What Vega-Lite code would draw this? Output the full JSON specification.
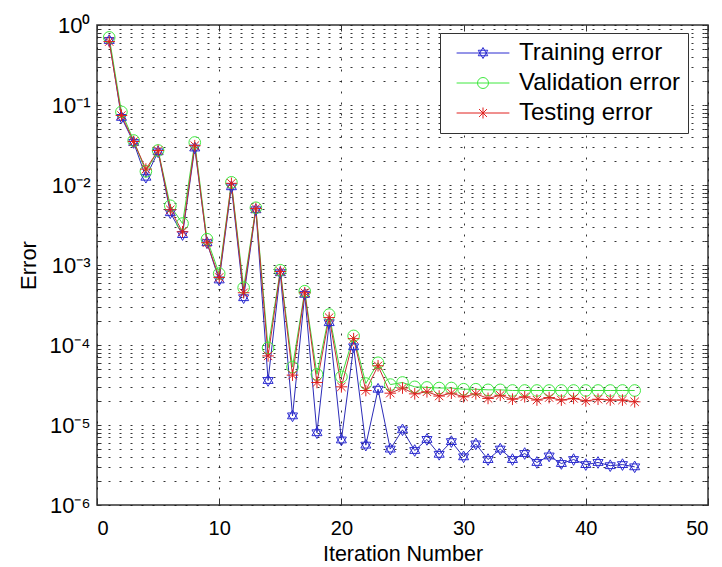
{
  "$schema": "https://vega.github.io/schema/vega-lite/v6.json",
  "width": 611,
  "height": 480,
  "autosize": "none",
  "padding": {"left": 97, "top": 25, "right": 14, "bottom": 62},
  "background": "white",
  "config": {
    "font": "Liberation Sans",
    "view": {"stroke": "#333", "strokeWidth": 1.5},
    "axis": {
      "labelColor": "#000",
      "titleColor": "#000",
      "titleFontWeight": "normal",
      "gridColor": "#111",
      "gridDash": [2, 9],
      "gridWidth": 1,
      "gridOpacity": 0.85,
      "domain": false,
      "tickColor": "#333"
    }
  },
  "data": {
    "values": [
      {"it": 1, "Training error": 0.64, "Validation error": 0.70, "Testing error": 0.62},
      {"it": 2, "Training error": 0.070, "Validation error": 0.082, "Testing error": 0.074},
      {"it": 3, "Training error": 0.034, "Validation error": 0.036, "Testing error": 0.035},
      {"it": 4, "Training error": 0.0125, "Validation error": 0.0148, "Testing error": 0.0158},
      {"it": 5, "Training error": 0.026, "Validation error": 0.027, "Testing error": 0.027},
      {"it": 6, "Training error": 0.0045, "Validation error": 0.0055, "Testing error": 0.0049},
      {"it": 7, "Training error": 0.0024, "Validation error": 0.0033, "Testing error": 0.0026},
      {"it": 8, "Training error": 0.029, "Validation error": 0.034, "Testing error": 0.031},
      {"it": 9, "Training error": 0.0019, "Validation error": 0.0021, "Testing error": 0.0019},
      {"it": 10, "Training error": 0.00065, "Validation error": 0.00078, "Testing error": 0.0007},
      {"it": 11, "Training error": 0.0095, "Validation error": 0.0108, "Testing error": 0.0105},
      {"it": 12, "Training error": 0.00039, "Validation error": 0.00052, "Testing error": 0.00045},
      {"it": 13, "Training error": 0.0049, "Validation error": 0.0052, "Testing error": 0.0051},
      {"it": 14, "Training error": 0.000036, "Validation error": 0.000092, "Testing error": 0.000073},
      {"it": 15, "Training error": 0.00080, "Validation error": 0.00086, "Testing error": 0.00083},
      {"it": 16, "Training error": 0.000013, "Validation error": 0.000053, "Testing error": 0.000042},
      {"it": 17, "Training error": 0.00043, "Validation error": 0.00047, "Testing error": 0.00045},
      {"it": 18, "Training error": 0.000008, "Validation error": 0.000043, "Testing error": 0.000034},
      {"it": 19, "Training error": 0.00019, "Validation error": 0.00024, "Testing error": 0.00022},
      {"it": 20, "Training error": 0.0000065, "Validation error": 0.00004, "Testing error": 0.00003},
      {"it": 21, "Training error": 0.000095, "Validation error": 0.00013, "Testing error": 0.00012},
      {"it": 22, "Training error": 0.0000056, "Validation error": 0.000033, "Testing error": 0.000027},
      {"it": 23, "Training error": 0.000028, "Validation error": 0.00006, "Testing error": 0.000055},
      {"it": 24, "Training error": 0.000005, "Validation error": 0.000032, "Testing error": 0.000025},
      {"it": 25, "Training error": 0.0000087, "Validation error": 0.000034, "Testing error": 0.000029},
      {"it": 26, "Training error": 0.0000048, "Validation error": 0.00003, "Testing error": 0.0000245},
      {"it": 27, "Training error": 0.0000066, "Validation error": 0.0000295, "Testing error": 0.000026},
      {"it": 28, "Training error": 0.0000043, "Validation error": 0.000029, "Testing error": 0.000023},
      {"it": 29, "Training error": 0.0000062, "Validation error": 0.000029, "Testing error": 0.000025},
      {"it": 30, "Training error": 0.000004, "Validation error": 0.000028, "Testing error": 0.0000225},
      {"it": 31, "Training error": 0.0000058, "Validation error": 0.000028, "Testing error": 0.0000245},
      {"it": 32, "Training error": 0.0000037, "Validation error": 0.0000275, "Testing error": 0.0000215},
      {"it": 33, "Training error": 0.000005, "Validation error": 0.0000275, "Testing error": 0.0000235},
      {"it": 34, "Training error": 0.0000037, "Validation error": 0.000027, "Testing error": 0.000021},
      {"it": 35, "Training error": 0.0000044, "Validation error": 0.000027, "Testing error": 0.0000225},
      {"it": 36, "Training error": 0.0000034, "Validation error": 0.000027, "Testing error": 0.0000205},
      {"it": 37, "Training error": 0.0000041, "Validation error": 0.000027, "Testing error": 0.000022},
      {"it": 38, "Training error": 0.0000033, "Validation error": 0.000027, "Testing error": 0.0000205},
      {"it": 39, "Training error": 0.0000037, "Validation error": 0.000027, "Testing error": 0.0000215},
      {"it": 40, "Training error": 0.0000032, "Validation error": 0.000027, "Testing error": 0.00002},
      {"it": 41, "Training error": 0.0000034, "Validation error": 0.000027, "Testing error": 0.000021},
      {"it": 42, "Training error": 0.0000031, "Validation error": 0.000027, "Testing error": 0.0000205},
      {"it": 43, "Training error": 0.0000032, "Validation error": 0.000027, "Testing error": 0.0000205},
      {"it": 44, "Training error": 0.000003, "Validation error": 0.000027, "Testing error": 0.0000195}
    ]
  },
  "transform": [
    {"fold": ["Training error", "Validation error", "Testing error"], "as": ["series", "value"]}
  ],
  "layer": [
    {
      "mark": {"type": "line", "strokeWidth": 1},
      "encoding": {
        "x": {
          "field": "it",
          "type": "quantitative",
          "scale": {"domain": [0, 50], "nice": false},
          "axis": {
            "orient": "bottom",
            "title": "Iteration Number",
            "values": [0, 10, 20, 30, 40, 50],
            "grid": true,
            "labelFontSize": 20,
            "titleFontSize": 21.5,
            "tickSize": -6,
            "labelPadding": 19,
            "titlePadding": 5
          }
        },
        "y": {
          "field": "value",
          "type": "quantitative",
          "scale": {"type": "log", "domain": [0.000001, 1], "nice": false},
          "axis": {
            "orient": "left",
            "title": "Error",
            "values": [0.000001, 0.000002, 0.000003, 0.000004, 0.000005, 0.000006, 0.000007, 0.000008, 0.000009,
                       0.00001, 0.00002, 0.00003, 0.00004, 0.00005, 0.00006, 0.00007, 0.00008, 0.00009,
                       0.0001, 0.0002, 0.0003, 0.0004, 0.0005, 0.0006, 0.0007, 0.0008, 0.0009,
                       0.001, 0.002, 0.003, 0.004, 0.005, 0.006, 0.007, 0.008, 0.009,
                       0.01, 0.02, 0.03, 0.04, 0.05, 0.06, 0.07, 0.08, 0.09,
                       0.1, 0.2, 0.3, 0.4, 0.5, 0.6, 0.7, 0.8, 0.9, 1],
            "labelExpr": "abs(log(datum.value)/LN10 - round(log(datum.value)/LN10)) < 0.01 ? '10' + ['⁰','⁻¹','⁻²','⁻³','⁻⁴','⁻⁵','⁻⁶'][-round(log(datum.value)/LN10)] : ''",
            "labelOverlap": false,
            "grid": true,
            "labelFontSize": 22,
            "titleFontSize": 22,
            "tickSize": -4,
            "labelPadding": 11,
            "titlePadding": 9
          }
        },
        "color": {
          "field": "series",
          "type": "nominal",
          "scale": {"domain": ["Training error", "Validation error", "Testing error"], "range": ["#2b2bb8", "#3ddc3d", "#c8302e"]},
          "legend": null
        }
      }
    },
    {
      "mark": {"type": "point", "filled": false, "size": 135, "strokeWidth": 1, "opacity": 1},
      "encoding": {
        "x": {"field": "it", "type": "quantitative", "axis": null},
        "y": {"field": "value", "type": "quantitative", "axis": null},
        "color": {
          "field": "series",
          "type": "nominal",
          "scale": {"domain": ["Training error", "Validation error", "Testing error"], "range": ["#2b2bd0", "#3ee83e", "#e0201e"]},
          "legend": null
        },
        "shape": {
          "field": "series",
          "type": "nominal",
          "scale": {
            "domain": ["Training error", "Validation error", "Testing error"],
            "range": [
              "M0,-1L0.866,0.5L-0.866,0.5ZM0,1L0.866,-0.5L-0.866,-0.5Z",
              "circle",
              "M0,-1L0,1M-1,0L1,0M-0.72,-0.72L0.72,0.72M-0.72,0.72L0.72,-0.72"
            ]
          },
          "legend": null
        }
      }
    },
    {
      "transform": [{"filter": "false"}],
      "mark": {"type": "point", "filled": false, "size": 121, "strokeWidth": 1, "opacity": 1},
      "encoding": {
        "x": {
          "field": "it",
          "type": "quantitative",
          "axis": {"orient": "top", "title": null, "values": [0, 10, 20, 30, 40, 50], "labels": false, "grid": false, "tickSize": -6}
        },
        "y": {
          "field": "value",
          "type": "quantitative",
          "axis": {
            "orient": "right",
            "title": null,
            "labels": false,
            "grid": false,
            "tickSize": -4,
            "values": [0.000001, 0.000002, 0.000003, 0.000004, 0.000005, 0.000006, 0.000007, 0.000008, 0.000009,
                       0.00001, 0.00002, 0.00003, 0.00004, 0.00005, 0.00006, 0.00007, 0.00008, 0.00009,
                       0.0001, 0.0002, 0.0003, 0.0004, 0.0005, 0.0006, 0.0007, 0.0008, 0.0009,
                       0.001, 0.002, 0.003, 0.004, 0.005, 0.006, 0.007, 0.008, 0.009,
                       0.01, 0.02, 0.03, 0.04, 0.05, 0.06, 0.07, 0.08, 0.09,
                       0.1, 0.2, 0.3, 0.4, 0.5, 0.6, 0.7, 0.8, 0.9, 1]
          }
        },
        "color": {
          "field": "series",
          "type": "nominal",
          "scale": {"domain": ["Training error", "Validation error", "Testing error"], "range": ["#2b2bd0", "#3ee83e", "#e0201e"]},
          "legend": {
            "title": null,
            "orient": "none",
            "legendX": 343,
            "legendY": 8,
            "labelFontSize": 24,
            "labelColor": "#000",
            "labelLimit": 400,
            "labelExpr": "datum.label + '\u00a0\u00a0'",
            "strokeColor": "#333",
            "fillColor": "white",
            "padding": 8,
            "rowPadding": 6,
            "symbolSize": 121,
            "symbolStrokeWidth": 1,
            "symbolOffset": 23,
            "labelOffset": 24
          }
        },
        "shape": {
          "field": "series",
          "type": "nominal",
          "scale": {
            "domain": ["Training error", "Validation error", "Testing error"],
            "range": [
              "M-4.8,0L4.8,0M0,-1L0.866,0.5L-0.866,0.5ZM0,1L0.866,-0.5L-0.866,-0.5Z",
              "M-4.8,0L4.8,0M1,0A1,1,0,1,1,-1,0A1,1,0,1,1,1,0",
              "M-4.8,0L4.8,0M0,-1L0,1M-0.72,-0.72L0.72,0.72M-0.72,0.72L0.72,-0.72"
            ]
          },
          "legend": {
            "title": null,
            "orient": "none",
            "legendX": 343,
            "legendY": 8,
            "labelFontSize": 24,
            "labelColor": "#000",
            "labelLimit": 400,
            "labelExpr": "datum.label + '\u00a0\u00a0'",
            "strokeColor": "#333",
            "fillColor": "white",
            "padding": 8,
            "rowPadding": 6,
            "symbolSize": 121,
            "symbolStrokeWidth": 1,
            "symbolOffset": 23,
            "labelOffset": 24
          }
        }
      }
    }
  ],
  "resolve": {
    "scale": {"shape": "independent", "color": "independent"},
    "axis": {"x": "independent", "y": "independent"}
  }
}
